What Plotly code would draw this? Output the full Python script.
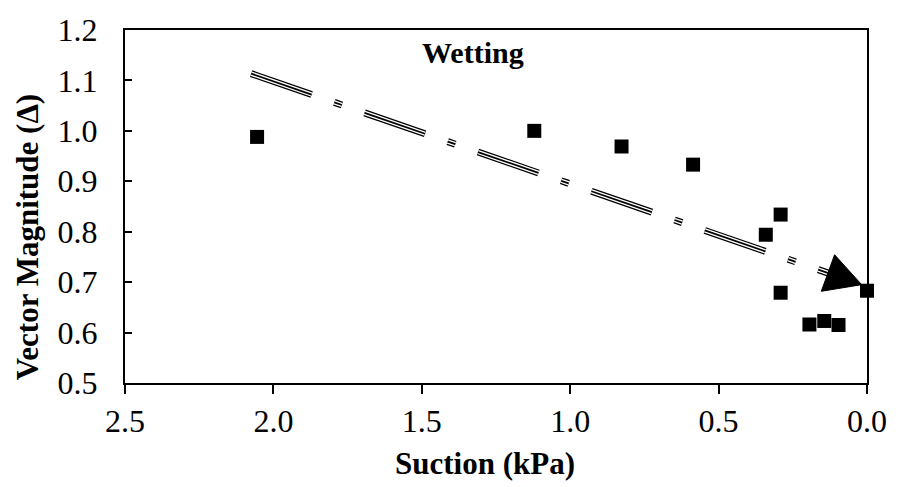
import numpy as np
import plotly.graph_objects as go

# ---- data ----
suction = [2.055, 1.121, 0.827, 0.586, 0.291, 0.341, 0.291, 0.194, 0.144, 0.096, 0.0]
magnitude = [0.988, 1.000, 0.969, 0.933, 0.834, 0.794, 0.679, 0.616, 0.623, 0.615, 0.683]
x_ticks = [2.5, 2.0, 1.5, 1.0, 0.5, 0.0]
y_ticks = [0.5, 0.6, 0.7, 0.8, 0.9, 1.0, 1.1, 1.2]
trend_start = [2.075, 1.1135]   # (suction, magnitude) where the trend arrow starts
trend_end = [0.018, 0.695]      # arrow tip
label_text = "Wetting"
label_pos = [1.329, 1.155]

# ---- layout constants ----
W, H = 899, 487
ML, MR, MT, MB = 125, 27, 19, 104
PW, PH = W - ML - MR, H - MT - MB
XR = [2.5, 0.0]
YR = [0.5, 1.2]
FONT = "Times New Roman, Liberation Serif, serif"


def to_px(x, y):
    px = ML + (x - XR[0]) / (XR[1] - XR[0]) * PW
    py = MT + (YR[1] - y) / (YR[1] - YR[0]) * PH
    return px, py


def to_data(px, py):
    x = XR[0] + (px - ML) / PW * (XR[1] - XR[0])
    y = YR[1] - (py - MT) / PH * (YR[1] - YR[0])
    return x, y


# arrow geometry (pixel space)
sx, sy = to_px(*trend_start)
ex, ey = to_px(*trend_end)
d = np.array([ex - sx, ey - sy])
L = np.hypot(*d)
u = d / L
n = np.array([-u[1], u[0]])
head_len, head_half = 36, 20
base = np.array([ex, ey]) - u * head_len
c1 = base + n * head_half
c2 = base - n * head_half
line_end = to_data(*(base + u * 2))
head_pts = [to_data(ex, ey), to_data(*c1), to_data(*c2), to_data(ex, ey)]

fig = go.Figure()

dash = "64px,24px,8px,24px"
for w, col in [(7.0, "black"), (4.4, "white"), (1.8, "black")]:
    fig.add_trace(go.Scatter(
        x=[trend_start[0], line_end[0]], y=[trend_start[1], line_end[1]],
        mode="lines", line=dict(color=col, width=w, dash=dash),
        hoverinfo="skip", showlegend=False))

fig.add_trace(go.Scatter(
    x=[p[0] for p in head_pts], y=[p[1] for p in head_pts],
    mode="lines", fill="toself", fillcolor="black",
    line=dict(color="black", width=1), hoverinfo="skip", showlegend=False))

fig.add_trace(go.Scatter(
    x=suction, y=magnitude, mode="markers",
    marker=dict(symbol="square", size=14, color="black",
                line=dict(color="black", width=0)),
    showlegend=False, cliponaxis=False))

fig.update_layout(
    width=W, height=H,
    margin=dict(l=ML, r=MR, t=MT, b=MB),
    paper_bgcolor="white", plot_bgcolor="white",
    font=dict(family=FONT, size=30, color="black"),
    showlegend=False,
    xaxis=dict(range=XR, tickvals=x_ticks, ticktext=[f"{v:.1f}" for v in x_ticks],
               ticks="outside", ticklen=9, tickwidth=2, tickcolor="black",
               showline=True, linecolor="black", linewidth=2, mirror=True,
               showgrid=False, zeroline=False, ticklabelstandoff=0,
               tickfont=dict(family=FONT, size=32, color="black")),
    yaxis=dict(range=YR, tickvals=y_ticks, ticktext=[f"{v:.1f}" for v in y_ticks],
               ticks="inside", ticklen=7, tickwidth=2, tickcolor="black",
               showline=True, linecolor="black", linewidth=2, mirror=True,
               showgrid=False, zeroline=False, ticklabelstandoff=19,
               tickfont=dict(family=FONT, size=32, color="black")),
    annotations=[
        dict(x=label_pos[0], y=label_pos[1], xref="x", yref="y", text=f"<b>{label_text}</b>",
             showarrow=False, font=dict(family=FONT, size=30, color="black")),
        dict(x=(487 - ML) / PW, y=(MT + PH - 466) / PH, xref="paper", yref="paper",
             text="<b>Suction (kPa)</b>", showarrow=False, xanchor="center", yanchor="middle",
             font=dict(family=FONT, size=31, color="black")),
        dict(x=(27 - ML) / PW, y=(MT + PH - 233) / PH, xref="paper", yref="paper",
             text="<b>Vector Magnitude (Δ)</b>", showarrow=False, textangle=-90,
             xanchor="center", yanchor="middle",
             font=dict(family=FONT, size=31, color="black")),
    ],
)

fig.write_html("out.html")
